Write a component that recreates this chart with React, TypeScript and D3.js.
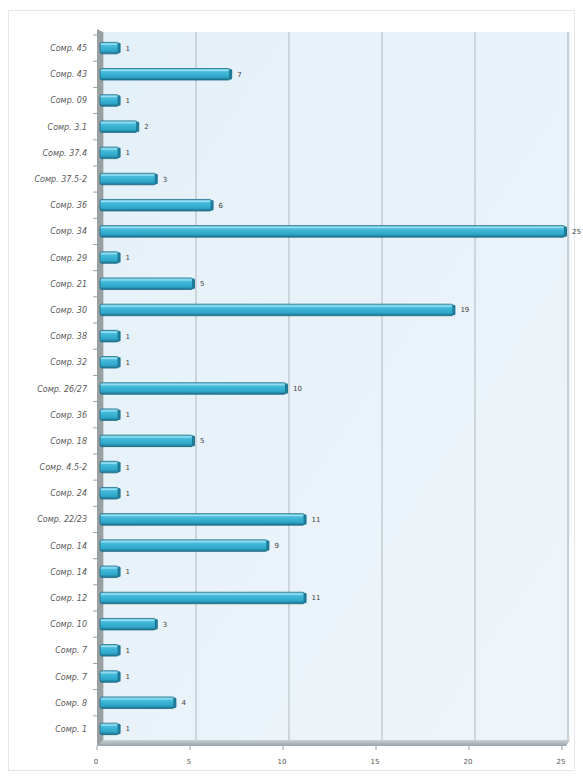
import React from "react";
import * as d3 from "d3";

const categories = [
  "Сомр. 45", "Сомр. 43", "Сомр. 09", "Сомр. 3.1", "Сомр. 37.4", "Сомр. 37.5-2",
  "Сомр. 36", "Сомр. 34", "Сомр. 29", "Сомр. 21", "Сомр. 30", "Сомр. 38",
  "Сомр. 32", "Сомр. 26/27", "Сомр. 36", "Сомр. 18", "Сомр. 4.5-2", "Сомр. 24",
  "Сомр. 22/23", "Сомр. 14", "Сомр. 14", "Сомр. 12", "Сомр. 10", "Сомр. 7",
  "Сомр. 7", "Сомр. 8", "Сомр. 1",
];
const values = [1, 7, 1, 2, 1, 3, 6, 25, 1, 5, 19, 1, 1, 10, 1, 5, 1, 1, 11, 9, 1, 11, 3, 1, 1, 4, 1];
const ticks = [0, 5, 10, 15, 20, 25];

const W = 583;
const H = 776;
const left = 100;
const right = 565;
const top = 35;
const bottom = 742;

export default function App() {
  const x = d3.scaleLinear().domain([0, 25]).range([left, right]);
  const idx = categories.map((_, i) => String(i));
  const y = d3.scaleBand<string>().domain(idx).range([top, bottom]).paddingInner(0.56).paddingOuter(0.28);
  const yStep = d3.scaleBand<string>().domain(idx).range([top, bottom]);
  const bh = y.bandwidth();

  return (
    <svg width={W} height={H} style={{ position: "absolute", left: 0, top: 0, fontFamily: "DejaVu Sans, sans-serif" }}>
      <defs>
        <linearGradient id="wall" x1="0" y1="0" x2="1" y2="1">
          <stop offset="0" stopColor="#e4f0f8" />
          <stop offset="1" stopColor="#eef5fa" />
        </linearGradient>
        <linearGradient id="bar" x1="0" y1="0" x2="0" y2="1">
          <stop offset="0" stopColor="#8adbf0" />
          <stop offset="0.3" stopColor="#44bbdb" />
          <stop offset="0.75" stopColor="#2ea6c8" />
          <stop offset="1" stopColor="#1d6f8a" />
        </linearGradient>
        <linearGradient id="floor" x1="0" y1="0" x2="0" y2="1">
          <stop offset="0" stopColor="#c8d0d4" />
          <stop offset="1" stopColor="#9aa4a8" />
        </linearGradient>
      </defs>
      <rect x={0} y={0} width={W} height={H} fill="#ffffff" />
      <rect x={8.5} y={10.5} width={566} height={760} fill="#ffffff" stroke="#e4e6e8" strokeWidth={1} />
      <rect x={left + 2} y={top - 3} width={right - left + 3} height={bottom - top + 2} fill="url(#wall)" />
      {ticks.map((t) => (
        <line key={"g" + t} x1={x(t) + 3} x2={x(t) + 3} y1={top - 3} y2={bottom - 1} stroke={t === 25 ? "#bcc4c8" : "#b0b9be"} strokeWidth={t === 25 ? 1.5 : 1} />
      ))}
      <polygon points={`${left - 3},${top - 6} ${left + 3},${top - 3} ${left + 3},${bottom} ${left - 3},${bottom + 4}`} fill="#9a9fa2" />
      <polygon points={`${left - 3},${bottom + 4} ${left + 3},${bottom - 2} ${right + 5},${bottom - 2} ${right + 1},${bottom + 4}`} fill="url(#floor)" />
      {categories.map((_, i) => (
        <line key={"ct" + i} x1={left - 7} x2={left - 3} y1={(yStep(String(i)) as number)} y2={(yStep(String(i)) as number)} stroke="#9aa0a4" strokeWidth={1} />
      ))}
      {values.map((v, i) => {
        const y0 = y(String(i)) as number;
        const x1 = x(v);
        return (
          <g key={"b" + i}>
            <rect x={left} y={y0} width={x1 - left} height={bh} rx={2} fill="url(#bar)" stroke="#1d6a85" strokeWidth={0.8} />
            <line x1={left + 1} x2={x1 - 2} y1={y0 + 2} y2={y0 + 2} stroke="#b0e8f6" strokeWidth={1} opacity={0.8} />
            <rect x={x1 - 1} y={y0 + 0.5} width={3} height={bh - 1} rx={1.5} fill="#1f7a98" />
            <text x={x1 + 7} y={y0 + bh / 2 + 2.5} fontSize={7} fill="#444">{v}</text>
          </g>
        );
      })}
      {categories.map((c, i) => (
        <text key={"c" + i} x={left - 13} y={(y(String(i)) as number) + bh / 2 + 3} fontSize={8} fontStyle="italic" textAnchor="end" fill="#5a5a5a">{c}</text>
      ))}
      {ticks.map((t) => (
        <g key={"t" + t}>
          <line x1={x(t) - 3} x2={x(t) - 3} y1={bottom + 4} y2={bottom + 8} stroke="#9aa0a4" />
          <text x={x(t) - 4} y={bottom + 22} fontSize={7} textAnchor="middle" fill="#555">{t}</text>
        </g>
      ))}
    </svg>
  );
}
